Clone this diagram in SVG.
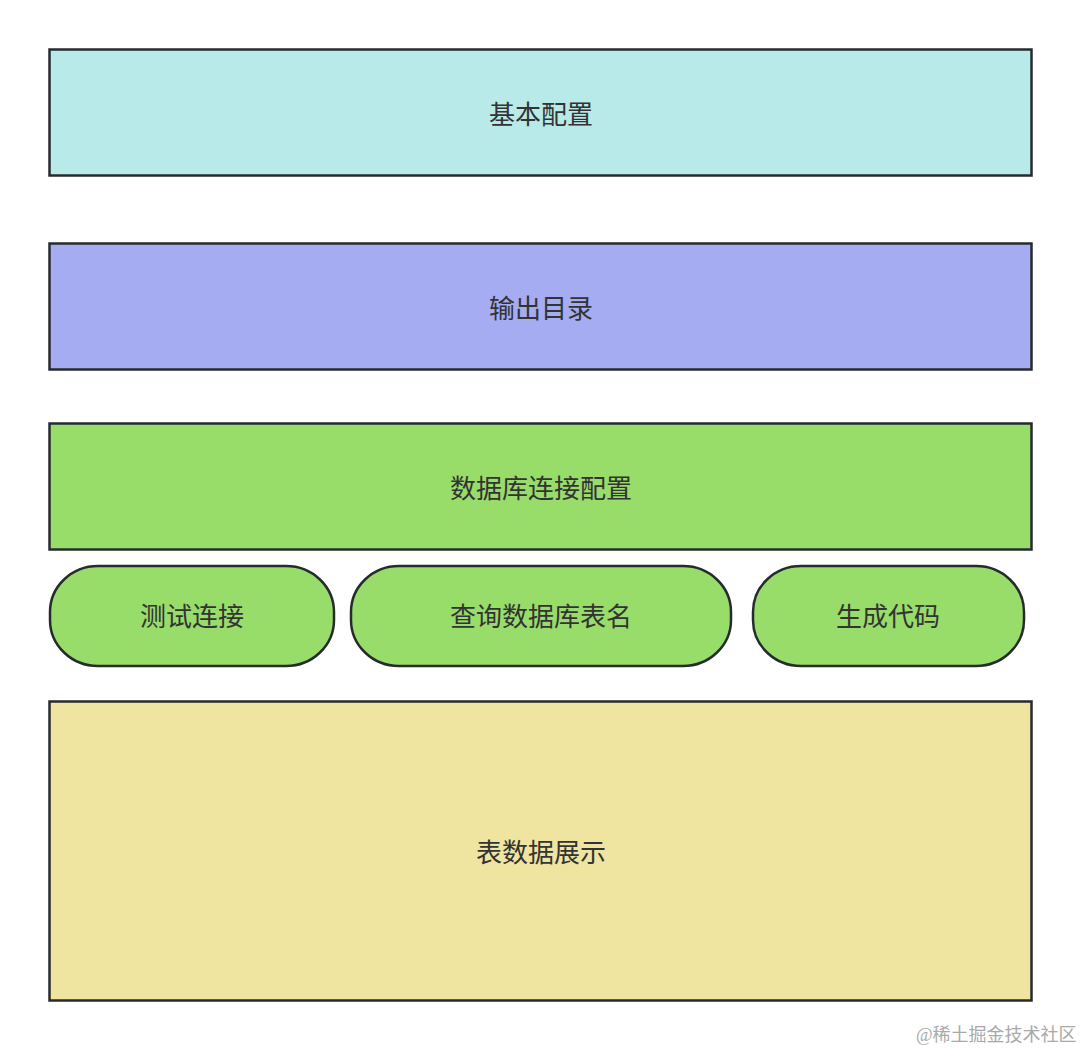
<svg xmlns="http://www.w3.org/2000/svg" width="1082" height="1052" viewBox="0 0 1082 1052">
<style>
.box{stroke:#262b2e;stroke-width:2.5}
.t{font-family:"Liberation Sans","Noto Sans CJK SC",sans-serif;font-size:26px;fill:#333333;text-anchor:middle;dominant-baseline:central}
.wm{font-family:"Liberation Serif","Noto Sans CJK SC",serif;font-size:18px;fill:#a9a9a9}
</style>
<rect width="1082" height="1052" fill="#ffffff"/>
<g id="basic">
<rect class="box" x="49.5" y="49.5" width="982" height="126" fill="#b8eae9"/>
<text class="t" x="541" y="115">基本配置</text>
</g>
<g id="output">
<rect class="box" x="49.5" y="243.5" width="982" height="126" fill="#a5acf2"/>
<text class="t" x="541" y="309">输出目录</text>
</g>
<g id="dbconfig">
<rect class="box" x="49.5" y="423.5" width="982" height="126" fill="#98dc6a"/>
<text class="t" x="541" y="489">数据库连接配置</text>
</g>
<g id="test">
<rect class="box" x="50" y="566" width="284" height="100" rx="48" ry="46" fill="#98dc6a"/>
<text class="t" x="192" y="617">测试连接</text>
</g>
<g id="query">
<rect class="box" x="351" y="566" width="380" height="100" rx="48" ry="46" fill="#98dc6a"/>
<text class="t" x="541" y="617">查询数据库表名</text>
</g>
<g id="gen">
<rect class="box" x="753" y="566" width="271" height="100" rx="48" ry="46" fill="#98dc6a"/>
<text class="t" x="888" y="617">生成代码</text>
</g>
<g id="table">
<rect class="box" x="49.5" y="701.5" width="982" height="299" fill="#efe4a0"/>
<text class="t" x="541" y="853">表数据展示</text>
</g>
<g id="connectors"></g>
<text class="wm" x="916" y="1041">@稀土掘金技术社区</text>
</svg>
